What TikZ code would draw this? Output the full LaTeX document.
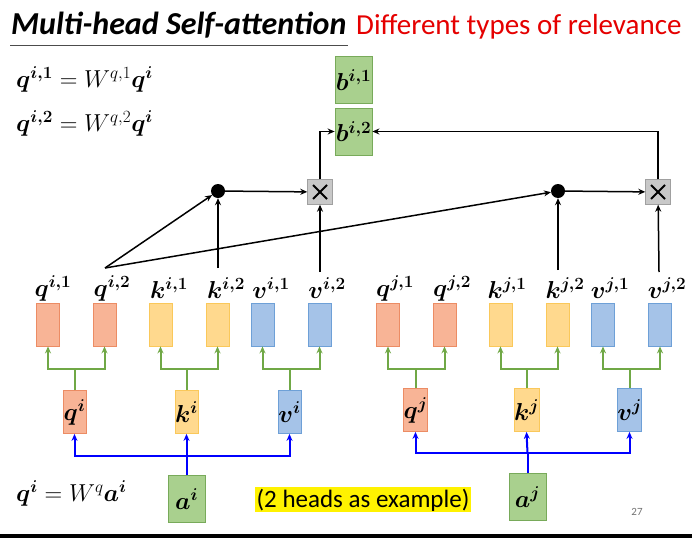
\RequirePackage{fix-cm}
\documentclass[tikz,border=0pt]{standalone}
\usepackage{amsmath,bm}
\usepackage{fontspec}
\setmainfont{Carlito}
\usetikzlibrary{arrows.meta,calc}
\definecolor{ofill}{RGB}{248,180,150}
\definecolor{odraw}{RGB}{236,140,100}
\definecolor{yfill}{RGB}{255,217,142}
\definecolor{ydraw}{RGB}{250,200,90}
\definecolor{bfill}{RGB}{165,195,232}
\definecolor{bdraw}{RGB}{110,160,215}
\definecolor{gfill}{RGB}{169,208,142}
\definecolor{gdraw}{RGB}{120,170,90}
\definecolor{garrow}{RGB}{112,168,70}
\definecolor{xgray}{RGB}{200,200,200}
\tikzset{
  vbox/.style={draw, line width=0.8pt, minimum width=23pt, minimum height=43pt, inner sep=0pt},
  obox/.style={vbox, fill=ofill, draw=odraw},
  ybox/.style={vbox, fill=yfill, draw=ydraw},
  bbox/.style={vbox, fill=bfill, draw=bdraw},
  gbox/.style={draw=gdraw, fill=gfill, line width=0.8pt, minimum width=37pt, minimum height=47pt, inner sep=0pt},
  lab/.style={inner sep=0pt, font=\fontsize{24.5}{27}\selectfont},
  dotnode/.style={circle, fill=black, minimum size=14pt, inner sep=0pt},
  xnode/.style={fill=xgray, draw=xgray!80!black, line width=0.4pt, minimum size=25pt, inner sep=0pt},
  blk/.style={-{Stealth[length=7pt,width=6pt]}, line width=1.5pt},
  garr/.style={-{Stealth[length=7pt,width=6pt]}, draw=garrow, line width=2pt},
  barr/.style={-{Stealth[length=7pt,width=6pt]}, draw=blue, line width=2pt},
}
\begin{document}
\begin{tikzpicture}[x=1pt,y=-1pt]
\useasboundingbox (0,0) rectangle (692,538);
\fill[white] (0,0) rectangle (692,538);
\fill[black] (0,534) rectangle (692,538);
% title
\node[anchor=west, inner sep=0pt, font=\fontsize{32}{35}\selectfont\bfseries\itshape] (title) at (11,25) {Multi-head Self-attention};
\draw[line width=0.8pt, black!70] (10,45) -- (348,45);
\node[anchor=west, inner sep=0pt, text=red!90!black, font=\fontsize{29}{32}\selectfont] (sub) at (356,27) {Different types of relevance};
% equations
\node[anchor=west, lab] (eq1) at (16,79) {$\bm{q}^{\bm{i,1}}=W^{q,1}\bm{q}^{\bm{i}}$};
\node[anchor=west, lab] (eq2) at (16,123) {$\bm{q}^{\bm{i,2}}=W^{q,2}\bm{q}^{\bm{i}}$};
\node[anchor=west, lab] (eq3) at (16,493) {$\bm{q}^{\bm{i}}=W^{q}\bm{a}^{\bm{i}}$};
% b boxes
\node[gbox, lab] (b1) at (353.5,80) {$\bm{b}^{\bm{i,1}}$};
\node[gbox, lab] (b2) at (353.5,131.5) {$\bm{b}^{\bm{i,2}}$};
% dots and multiply
\node[dotnode] (d1) at (218,191) {};
\node[dotnode] (d2) at (558,191) {};
\node[xnode] (x1) at (320,192) {};
\node[xnode] (x2) at (658,192) {};
\foreach \n in {x1,x2}{
  \draw[line width=2pt] ([shift={(-7,-7)}]\n.center) -- ([shift={(7,7)}]\n.center);
  \draw[line width=2pt] ([shift={(-7,7)}]\n.center) -- ([shift={(7,-7)}]\n.center);
}
% labels
\foreach \nm/\x/\t in {lqi1/53/{\bm{q}^{\bm{i,1}}}, lqi2/112/{\bm{q}^{\bm{i,2}}}, lki1/169/{\bm{k}^{\bm{i,1}}}, lki2/226/{\bm{k}^{\bm{i,2}}}, lvi1/271/{\bm{v}^{\bm{i,1}}}, lvi2/327/{\bm{v}^{\bm{i,2}}},
  lqj1/395/{\bm{q}^{\bm{j,1}}}, lqj2/452/{\bm{q}^{\bm{j,2}}}, lkj1/507/{\bm{k}^{\bm{j,1}}}, lkj2/565/{\bm{k}^{\bm{j,2}}}, lvj1/610/{\bm{v}^{\bm{j,1}}}, lvj2/667/{\bm{v}^{\bm{j,2}}}}{
  \node[lab] (\nm) at (\x,288) {$\t$};
}
% small boxes
\node[obox] (qi1) at (48,324.5) {};
\node[obox] (qi2) at (104.5,324.5) {};
\node[ybox] (ki1) at (160.5,324.5) {};
\node[ybox] (ki2) at (217.5,324.5) {};
\node[bbox] (vi1) at (262.5,324.5) {};
\node[bbox] (vi2) at (319.5,324.5) {};
\node[obox] (qj1) at (388,324.5) {};
\node[obox] (qj2) at (444.5,324.5) {};
\node[ybox] (kj1) at (500.5,324.5) {};
\node[ybox] (kj2) at (557.5,324.5) {};
\node[bbox] (vj1) at (603,324.5) {};
\node[bbox] (vj2) at (660,324.5) {};
% parent boxes
\node[obox, lab] (qi) at (74.5,412) {$\bm{q}^{\bm{i}}$};
\node[ybox, lab] (ki) at (186.5,412) {$\bm{k}^{\bm{i}}$};
\node[bbox, lab] (vi) at (289.5,412) {$\bm{v}^{\bm{i}}$};
\node[obox, lab] (qj) at (415.5,410) {$\bm{q}^{\bm{j}}$};
\node[ybox, lab] (kj) at (526.5,410) {$\bm{k}^{\bm{j}}$};
\node[bbox, lab] (vj) at (629.5,410) {$\bm{v}^{\bm{j}}$};
% a boxes
\node[gbox, lab] (ai) at (186.5,499) {$\bm{a}^{\bm{i}}$};
\node[gbox, lab] (aj) at (527.5,497) {$\bm{a}^{\bm{j}}$};
% green split arrows
\foreach \p/\a/\b in {qi/qi1/qi2, ki/ki1/ki2, vi/vi1/vi2}{
  \coordinate (\p s) at ($(\p.north)+(0,-21)$);
  \draw[draw=garrow, line width=2pt] (\p.north) -- (\p s);
  \draw[garr] (\p s) -| (\a.south);
  \draw[garr] (\p s) -| (\b.south);
}
\foreach \p/\a/\b in {qj/qj1/qj2, kj/kj1/kj2, vj/vj1/vj2}{
  \coordinate (\p s) at ($(\p.north)+(0,-19)$);
  \draw[draw=garrow, line width=2pt] (\p.north) -- (\p s);
  \draw[garr] (\p s) -| (\a.south);
  \draw[garr] (\p s) -| (\b.south);
}
% blue arrows
\coordinate (ais) at (186.5,456);
\draw[draw=blue, line width=2pt] (ai.north) -- (ais);
\draw[barr] (ais) -| (qi.south);
\draw[barr] (ais) -- (ki.south);
\draw[barr] (ais) -| (vi.south);
\coordinate (ajs) at (527.5,453);
\draw[draw=blue, line width=2pt] (aj.north) -- (ajs);
\draw[barr] (ajs) -| (qj.south);
\draw[barr] (ajs) -- (kj.south);
\draw[barr] (ajs) -| (vj.south);
% attention arrows
\coordinate (qs) at (105,268);
\coordinate (ks) at (218,268);
\coordinate (vs) at (320,272);
\coordinate (kjs) at (558,270);
\coordinate (vjs) at (659,272);
\draw[blk] (qs) -- (d1);
\draw[blk] (qs) -- (d2);
\draw[blk] (ks) -- (d1);
\draw[blk] (vs) -- (x1);
\draw[blk] (kjs) -- (d2);
\draw[blk] (vjs) -- (x2);
\draw[blk] (d1) -- (x1);
\draw[blk] (d2) -- (x2);
\draw[blk] (x1.north) |- (b2.west);
\draw[blk] (x2.north) |- (b2.east);
% note
\fill[yellow] (255,487) rectangle (471,512);
\node[inner sep=0pt, font=\fontsize{25}{28}\selectfont] (note) at (363,500) {(2 heads as example)};
\node[inner sep=0pt, text=black!55, font=\fontsize{11}{12}\selectfont] (pg) at (637,512) {27};
\end{tikzpicture}
\end{document}
